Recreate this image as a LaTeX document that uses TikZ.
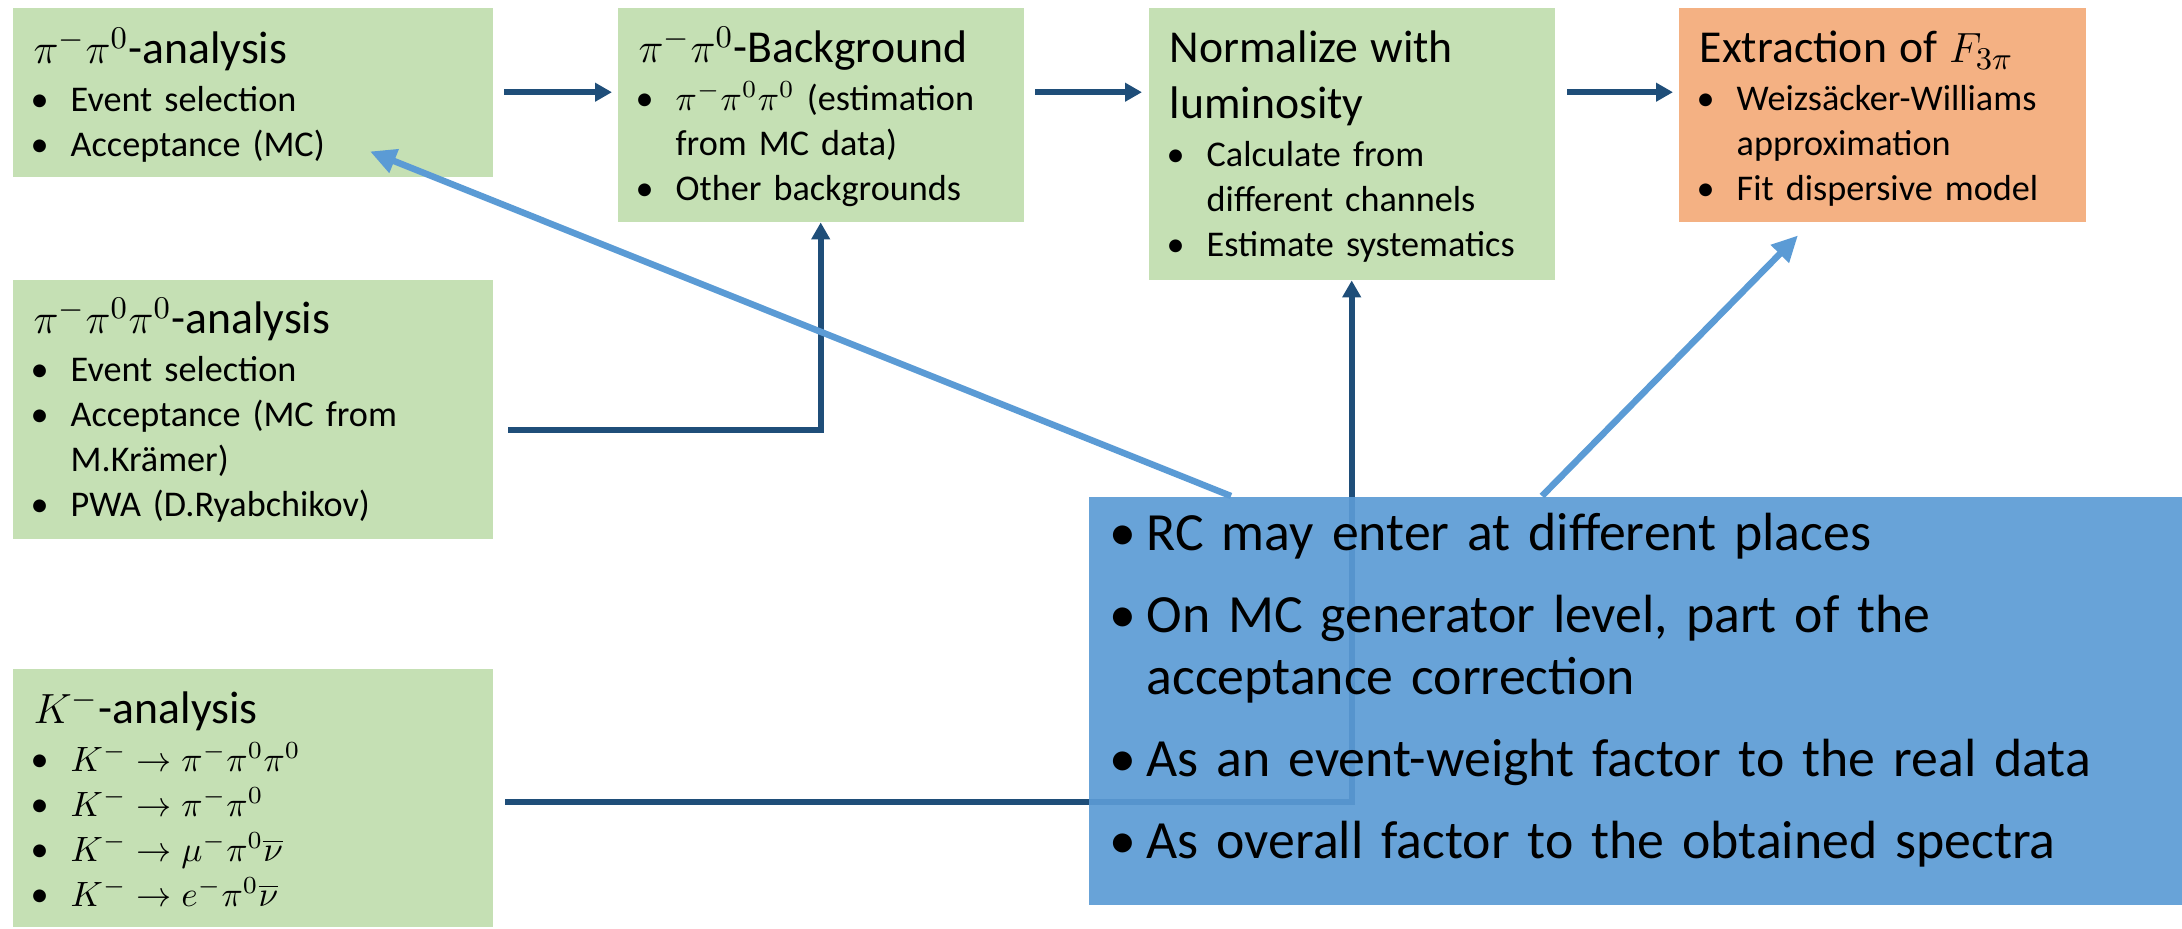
\documentclass[tikz,border=0pt]{standalone}
\usepackage{fontspec}
\setmainfont{Carlito}
\usepackage{amsmath}
\usetikzlibrary{arrows.meta,positioning,calc}

\definecolor{boxgreen}{RGB}{197,224,180}
\definecolor{boxorange}{RGB}{244,177,131}
\definecolor{rcblue}{RGB}{91,155,213}
\definecolor{flowblue}{RGB}{31,78,121}

\hyphenpenalty=10000
\exhyphenpenalty=10000

% heading and bullet lines inside the boxes
\newcommand{\boxhead}[1]{{\fontsize{13}{15.9}\selectfont #1\par}\vspace{0.3mm}}
\newcommand{\bitem}[2][-0.3mm]{\hangindent=3.7mm\hangafter=1\noindent\makebox[3.7mm][l]{\hspace{#1}\textbullet}#2\par}

\tikzset{
  stage/.style={fill=boxgreen, anchor=north west, inner xsep=2.1mm, inner ysep=0pt,
    align=left, font=\fontsize{10.3}{12.8}\selectfont},
  flow/.style={draw=flowblue, line width=0.6mm, -{Triangle[length=1.7mm,width=1.8mm]}},
  rcarrow/.style={draw=rcblue, line width=0.65mm, -{Triangle[length=2.6mm,width=2.4mm]}},
}

\begin{document}
\begin{tikzpicture}[x=0.1mm,y=-0.1mm]
  \useasboundingbox (0,0) rectangle (2182,928);

  \node[stage, text width=43.8mm, text height=5.6mm, text depth=11.3mm] (pipi) at (12,7) {%
    \boxhead{$\pi^-\pi^0$-analysis}
    \bitem{Event selection}
    \bitem{Acceptance (MC)}};
  \node[stage, text width=36.4mm, text height=5.5mm, text depth=15.9mm] (bkg) at (617,7) {%
    \boxhead{$\pi^-\pi^0$-Background}
    \bitem{$\pi^-\pi^0\pi^0$ (estimation\newline from MC data)}
    \bitem{Other backgrounds}};
  \node[stage, text width=36.4mm, text height=5.5mm, text depth=21.7mm] (norm) at (1148,7) {%
    \boxhead{Normalize with\newline luminosity}
    \bitem{Calculate from\newline different channels}
    \bitem{Estimate systematics}};
  \node[stage, fill=boxorange, text width=36.5mm, text height=5.5mm, text depth=15.9mm] (fit) at (1678,7) {%
    \boxhead{Extraction of $F_{3\pi}$}
    \bitem{Weizsäcker-Williams\newline approximation}
    \bitem{Fit dispersive model}};
  \node[stage, text width=43.8mm, text height=5.4mm, text depth=20.5mm] (threepi) at (12,279) {%
    \boxhead{$\pi^-\pi^0\pi^0$-analysis}
    \bitem{Event selection}
    \bitem{Acceptance (MC from\newline M.Krämer)}
    \bitem{PWA (D.Ryabchikov)}};
  \node[stage, text width=43.8mm, text height=5.5mm, text depth=20.3mm] (kaon) at (12,668) {%
    \boxhead{$K^-$-analysis}
    \bitem{$K^-\to\pi^-\pi^0\pi^0$}
    \bitem{$K^-\to\pi^-\pi^0$}
    \bitem{$K^-\to\mu^-\pi^0\overline{\nu}$}
    \bitem{$K^-\to e^-\pi^0\overline{\nu}$}};

  % main chain
  \draw[flow] ($(pipi.east)+(11,0)$) -- ($(bkg.west |- pipi.east)+(-5,0)$);
  \draw[flow] ($(bkg.east |- pipi.east)+(11,0)$) -- ($(norm.west |- pipi.east)+(-6,0)$);
  \draw[flow] ($(norm.east |- pipi.east)+(12,0)$) -- ($(fit.west |- pipi.east)+(-5,0)$);
  % side inputs
  \draw[flow] ($(threepi.east)+(15,21)$) -| (bkg.south);
  \draw[flow] ($(kaon.east)+(12,4)$) -| (norm.south);

  % radiative corrections, slightly see-through
  \node[stage, fill=none, preaction={fill=rcblue, fill opacity=0.92}, text width=105.2mm,
    text height=5.4mm, text depth=35.4mm, font=\fontsize{15.3}{17.4}\selectfont] (rc) at (1088,496) {%
    \bitem[0mm]{RC may enter at different places}\vspace{2.1mm}
    \bitem[0mm]{On MC generator level, part of the\newline acceptance correction}\vspace{2.1mm}
    \bitem[0mm]{As an event-weight factor to the real data}\vspace{2.1mm}
    \bitem[0mm]{As overall factor to the obtained spectra}};

  \draw[rcarrow] ($(rc.north west)+(143,0)$) -- ($(pipi.south west)+(358,-26)$);
  \draw[rcarrow] ($(rc.north west)+(454,0)$) -- ($(fit.south west)+(120,13)$);
\end{tikzpicture}
\end{document}
